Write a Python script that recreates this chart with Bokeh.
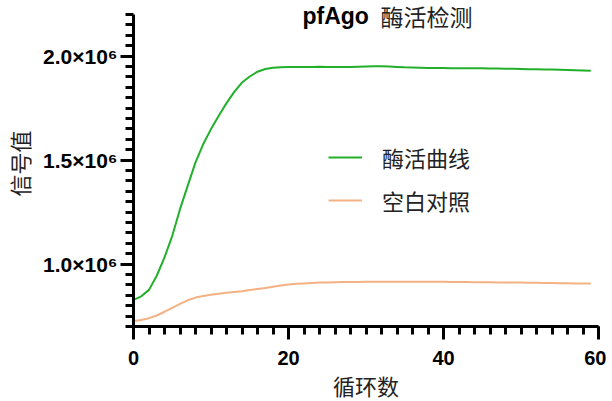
from bokeh.plotting import figure
from bokeh.models import (FixedTicker, CustomJSTickFormatter, Label, Legend, LegendItem, Range1d)
from bokeh.embed import file_html
from bokeh.resources import INLINE

# ---- data ----
cycles = list(range(60))
enzyme_curve = [0.828, 0.845, 0.876, 0.944, 1.032, 1.136, 1.264, 1.377, 1.489, 1.577,
                1.649, 1.713, 1.774, 1.828, 1.873, 1.902, 1.925, 1.938, 1.944, 1.946,
                1.947, 1.947, 1.948, 1.948, 1.949, 1.948, 1.948, 1.947, 1.948, 1.949,
                1.950, 1.951, 1.951, 1.950, 1.948, 1.946, 1.945, 1.944, 1.943, 1.943,
                1.943, 1.942, 1.942, 1.942, 1.941, 1.941, 1.940, 1.940, 1.939, 1.939,
                1.938, 1.937, 1.937, 1.936, 1.935, 1.934, 1.933, 1.932, 1.931, 1.930]
blank_control = [0.727, 0.731, 0.740, 0.753, 0.771, 0.790, 0.809, 0.826, 0.839, 0.847,
                 0.853, 0.858, 0.862, 0.866, 0.870, 0.875, 0.880, 0.885, 0.891, 0.897,
                 0.902, 0.905, 0.907, 0.909, 0.911, 0.912, 0.913, 0.914, 0.914, 0.914,
                 0.915, 0.915, 0.915, 0.915, 0.915, 0.915, 0.915, 0.915, 0.915, 0.915,
                 0.915, 0.914, 0.914, 0.914, 0.913, 0.913, 0.913, 0.912, 0.912, 0.911,
                 0.911, 0.910, 0.910, 0.909, 0.909, 0.908, 0.908, 0.907, 0.907, 0.907]
scale = 1e6
enzyme_vals = [v * scale for v in enzyme_curve]
blank_vals = [v * scale for v in blank_control]
x_major = [0, 20, 40, 60]
x_minor = list(range(0, 61, 2))
y_major = [1.0e6, 1.5e6, 2.0e6]
y_minor = [i * 0.05e6 for i in range(14, 45)]
y_axis_span = (0.7e6, 2.2e6)
series_names = ["酶活曲线", "空白对照"]
title_bold = "pfAgo"
title_rest = "酶活检测"
x_label = "循环数"
y_label = "信号值"

CJK = "Noto Sans CJK SC"
LAT = "Liberation Sans"

p = figure(frame_width=465, frame_height=326, output_backend="svg", toolbar_location=None,
           x_range=Range1d(0, 60), y_range=Range1d(0.7e6, 2.2673e6),
           min_border_left=133, min_border_top=0, min_border_right=8, min_border_bottom=60)
p.outline_line_color = None
p.xgrid.visible = False
p.ygrid.visible = False
p.background_fill_color = "white"

g = p.line(cycles, enzyme_vals, line_color="#22B02A", line_width=2)
o = p.line(cycles, blank_vals, line_color="#F4B183", line_width=2)

for ax in (p.xaxis[0], p.yaxis[0]):
    ax.axis_line_width = 3
    ax.major_tick_line_width = 3
    ax.minor_tick_line_width = 3
    ax.major_tick_out = 13
    ax.major_tick_in = 0
    ax.minor_tick_out = 8
    ax.minor_tick_in = 0
    ax.major_label_text_font = LAT
    ax.major_label_text_font_style = "bold"
    ax.major_label_text_color = "black"
    ax.axis_label_text_font = CJK
    ax.axis_label_text_font_style = "normal"
    ax.axis_label_text_font_size = "22px"
    ax.axis_label_text_color = "#222222"

p.xaxis.major_label_text_font_size = "20px"
p.yaxis.major_label_text_font_size = "21px"
p.xaxis.ticker = FixedTicker(ticks=x_major, minor_ticks=x_minor)
p.yaxis.ticker = FixedTicker(ticks=y_major, minor_ticks=y_minor)
p.yaxis.bounds = y_axis_span
p.yaxis.formatter = CustomJSTickFormatter(code="return (tick/1e6).toFixed(1) + '\u00d710\u2076';")
p.xaxis.axis_label = x_label
p.yaxis.axis_label = y_label
p.xaxis.major_label_standoff = 11
p.yaxis.major_label_standoff = 3
p.xaxis.axis_label_standoff = 1
p.yaxis.axis_label_standoff = 5

legend = Legend(items=[LegendItem(label=series_names[0], renderers=[g]),
                       LegendItem(label=series_names[1], renderers=[o])],
                location=(195, 110))
legend.border_line_color = None
legend.background_fill_alpha = 0
legend.padding = 0
legend.margin = 0
legend.spacing = 11
legend.glyph_width = 34
legend.glyph_height = 26
legend.label_height = 26
legend.label_standoff = 20
legend.label_text_font = CJK
legend.label_text_font_size = "22px"
legend.label_text_color = "#222222"
p.add_layout(legend)

t1 = Label(x=169, y=311, x_units="screen", y_units="screen", text=title_bold,
           text_font=LAT, text_font_style="bold", text_font_size="23px",
           text_baseline="middle", text_color="black")
t2 = Label(x=247, y=311, x_units="screen", y_units="screen", text=title_rest,
           text_font=CJK, text_font_size="23px", text_baseline="middle", text_color="#222222")
p.add_layout(t1)
p.add_layout(t2)

open("out.html", "w").write(file_html(p, INLINE))
